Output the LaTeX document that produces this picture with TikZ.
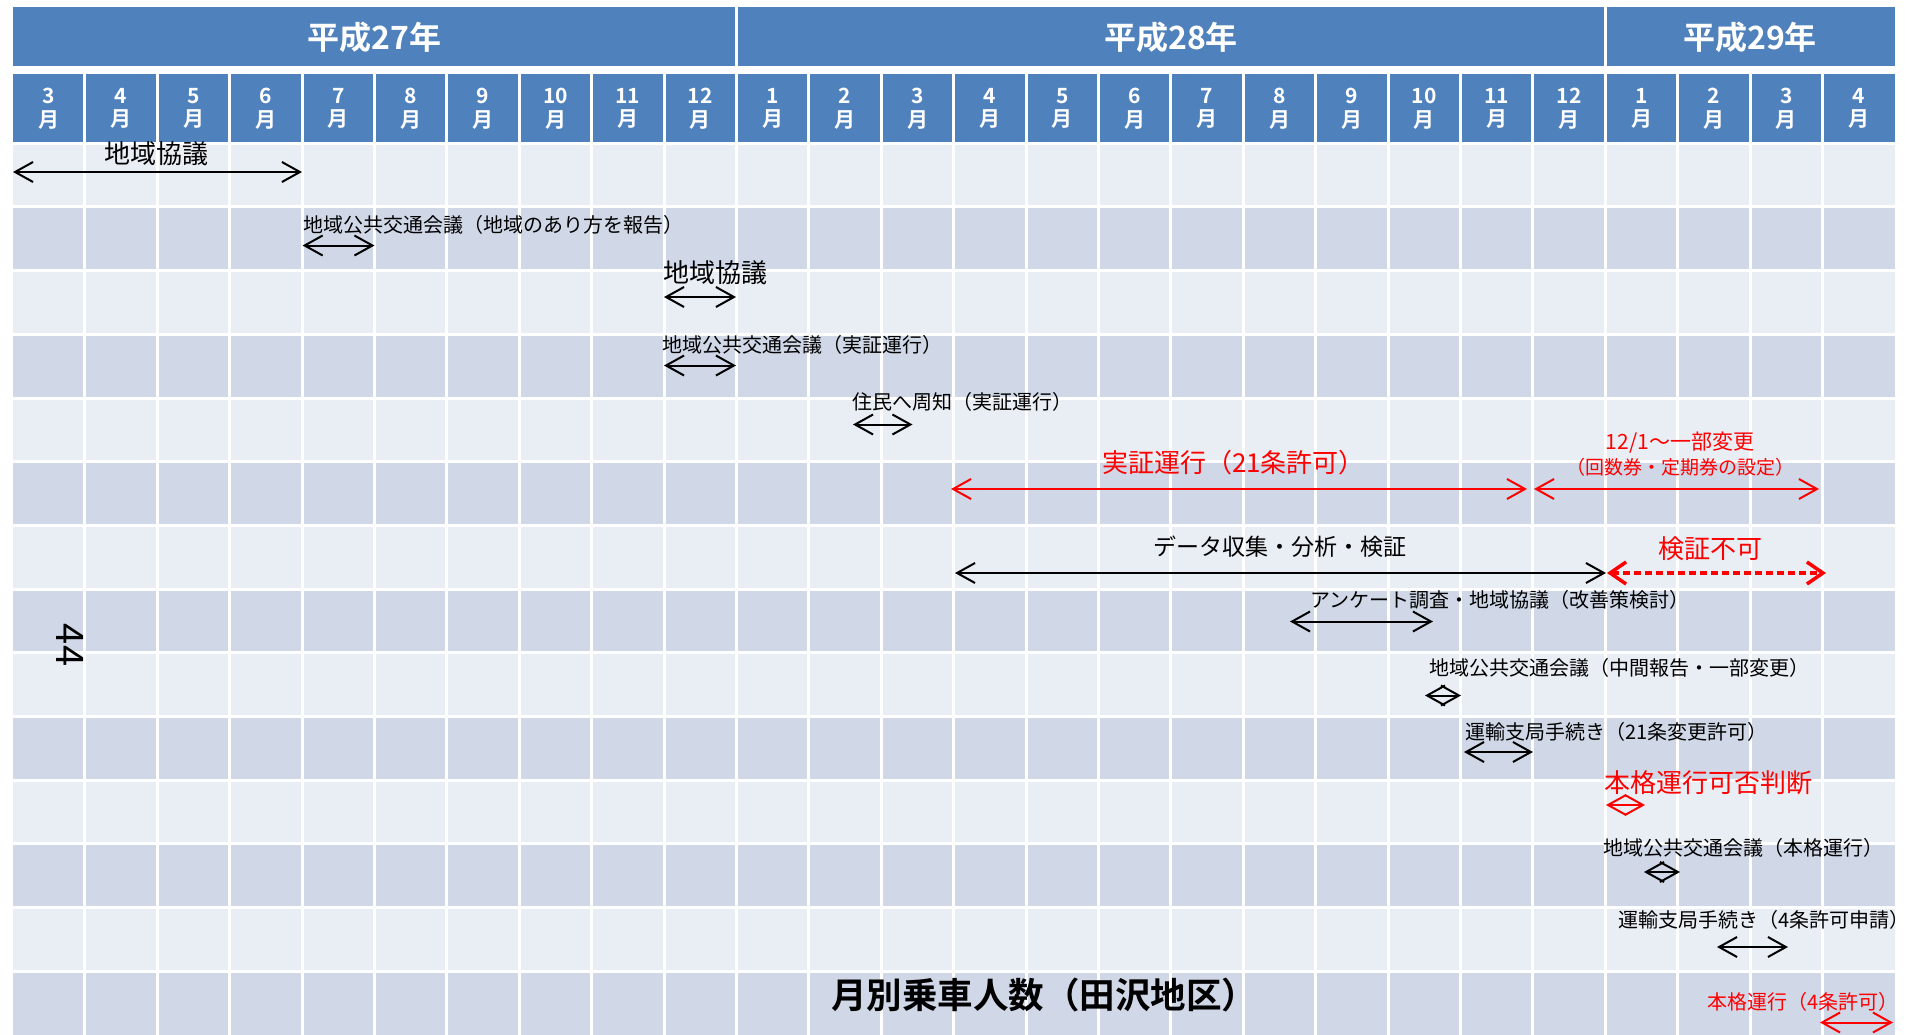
\documentclass[tikz,border=0pt]{standalone}
\usepackage{fontspec}
\setmainfont{Noto Sans CJK JP}[BoldFont={Noto Sans CJK JP Bold}]
\usetikzlibrary{arrows.meta}
\definecolor{hdblue}{HTML}{4F81BD}
\definecolor{rowlight}{HTML}{E9EDF4}
\definecolor{rowdark}{HTML}{D0D8E8}
\tikzset{
  evt/.style={inner sep=0pt,font=\fontsize{20}{24}\selectfont},
  evtbig/.style={inner sep=0pt,font=\fontsize{26}{30}\selectfont},
  dur/.style={<->,line width=2pt},
  hd/.style={inner sep=0pt,text=white,font=\bfseries\fontsize{21}{23.5}\selectfont,align=center},
}
\begin{document}
\begin{tikzpicture}[x=1pt,y=-1pt,>={Straight Barb[length=18pt,width=20pt]}]
\useasboundingbox (0,0) rectangle (1915,1034);
\fill[white] (0,0) rectangle (1915,1034);
% header
\fill[hdblue] (13,7.3) rectangle (1895,65.7);
\fill[hdblue] (13,74) rectangle (1895,143.2);
\foreach \r in {0,...,13}{
    \pgfmathsetmacro\ya{143.2+63.7*\r}
    \pgfmathsetmacro\yb{\ya+63.7}
    \ifodd\r \def\rc{rowdark}\else \def\rc{rowlight}\fi
    \fill[\rc] (13,\ya) rectangle (1895,\yb);
}
\foreach \k in {1,...,25}
    \draw[white,line width=3pt] (12.5+72.4*\k,74)--(12.5+72.4*\k,1040);
\foreach \k in {10,22}
    \draw[white,line width=3pt] (12.5+72.4*\k,5)--(12.5+72.4*\k,66);
\foreach \k in {0,...,13}
    \draw[white,line width=3pt] (13,143.2+63.7*\k)--(1895,143.2+63.7*\k);
\node[text=white,font=\bfseries\fontsize{32}{36}\selectfont] (h27) at (374.8,37) {平成27年};
\node[text=white,font=\bfseries\fontsize{32}{36}\selectfont] (h28) at (1171,37) {平成28年};
\node[text=white,font=\bfseries\fontsize{32}{36}\selectfont] (h29) at (1750,37) {平成29年};
\foreach \m [count=\i from 0] in {3,4,5,6,7,8,9,10,11,12,1,2,3,4,5,6,7,8,9,10,11,12,1,2,3,4}
    \node[hd] (m\i) at (48.7+72.4*\i,108.5) {\m\\月};
% rows
\node[evtbig] (kyo1) at (156.5,154) {地域協議};
\coordinate (kyo1a) at (13,172); \coordinate (kyo1b) at (302,172);
\draw[dur] (kyo1a)--(kyo1b);
\node[evt,anchor=west] (kai1) at (303,225) {地域公共交通会議（地域のあり方を報告）};
\coordinate (kai1a) at (302.6,245.5); \coordinate (kai1b) at (374.5,245.5);
\draw[dur] (kai1a)--(kai1b);
\node[evtbig,anchor=west] (kyo2) at (663,273) {地域協議};
\coordinate (kyo2a) at (664,297); \coordinate (kyo2b) at (736,297);
\draw[dur] (kyo2a)--(kyo2b);
\node[evt,anchor=west] (kai2) at (662,345) {地域公共交通会議（実証運行）};
\coordinate (kai2a) at (664,365.5); \coordinate (kai2b) at (736,365.5);
\draw[dur] (kai2a)--(kai2b);
\node[evt,anchor=west] (shu) at (852,401.5) {住民へ周知（実証運行）};
\coordinate (shua) at (853,424.5); \coordinate (shub) at (912.5,424.5);
\draw[dur] (shua)--(shub);
\node[evtbig,red] (jis) at (1233.5,463) {実証運行（21条許可）};
\coordinate (jisa) at (951,489); \coordinate (jisb) at (1527,489);
\draw[dur,red] (jisa)--(jisb);
\node[inner sep=0pt,red,align=center,font=\fontsize{19}{25}\selectfont] (hen) at (1680,454.5) {{\fontsize{21}{25}\selectfont 12/1～一部変更}\\（回数券・定期券の設定）};
\coordinate (hena) at (1534,489); \coordinate (henb) at (1819,489);
\draw[dur,red] (hena)--(henb);
\node[inner sep=0pt,font=\fontsize{23}{27}\selectfont] (dat) at (1280,547) {データ収集・分析・検証};
\coordinate (data) at (955,573); \coordinate (datb) at (1606,573);
\draw[dur] (data)--(datb);
\node[evtbig,red] (fuka) at (1710,549) {検証不可};
\coordinate (fukaa) at (1607,573); \coordinate (fukab) at (1826,573);
\draw[<->,red,line width=3.5pt,dash pattern=on 7pt off 4pt,>={Straight Barb[length=16pt,width=22pt]}] (fukaa)--(fukab);
\node[evt,anchor=west] (ank) at (1310,600) {アンケート調査・地域協議（改善策検討）};
\coordinate (anka) at (1290,621.5); \coordinate (ankb) at (1433,621.5);
\draw[dur] (anka)--(ankb);
\node[evt,anchor=west] (kai3) at (1429,668) {地域公共交通会議（中間報告・一部変更）};
\coordinate (kai3a) at (1425,695.5); \coordinate (kai3b) at (1461,695.5);
\draw[dur] (kai3a)--(kai3b);
\node[evt,anchor=west] (uny1) at (1465,732) {運輸支局手続き（21条変更許可）};
\coordinate (uny1a) at (1464,752); \coordinate (uny1b) at (1533,752);
\draw[dur] (uny1a)--(uny1b);
\node[evtbig,red,anchor=west] (han) at (1604,783) {本格運行可否判断};
\coordinate (hana) at (1606,805); \coordinate (hanb) at (1645,805);
\draw[dur,red] (hana)--(hanb);
\node[evt,anchor=west] (kai4) at (1603,848) {地域公共交通会議（本格運行）};
\coordinate (kai4a) at (1644,872); \coordinate (kai4b) at (1680,872);
\draw[dur] (kai4a)--(kai4b);
\node[evt,anchor=west] (uny2) at (1618,920) {運輸支局手続き（4条許可申請）};
\coordinate (uny2a) at (1717,947); \coordinate (uny2b) at (1788,947);
\draw[dur] (uny2a)--(uny2b);
\node[inner sep=0pt,font=\bfseries\fontsize{35.5}{40}\selectfont] (jos) at (1044,995) {月別乗車人数（田沢地区）};
\node[evt,red,anchor=west] (hon) at (1707,1001.5) {本格運行（4条許可）};
\coordinate (hona) at (1820,1022.5); \coordinate (honb) at (1893,1022.5);
\draw[dur,red] (hona)--(honb);
\node[inner sep=0pt,rotate=-90,font=\fontsize{38}{42}\selectfont] (pg) at (70,645) {44};
\end{tikzpicture}
\end{document}
